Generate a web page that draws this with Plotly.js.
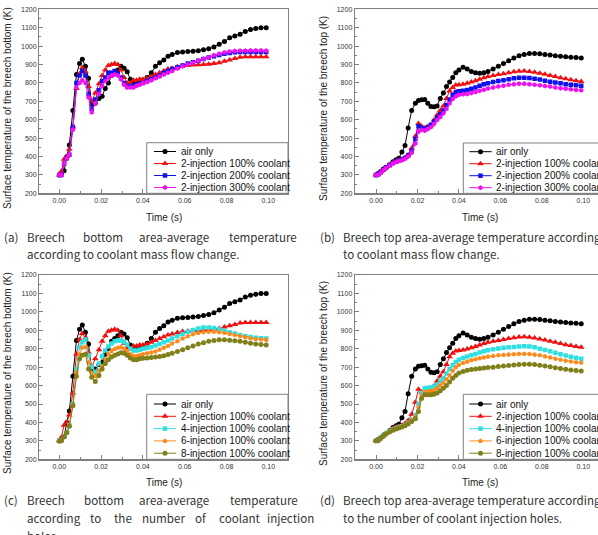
<!DOCTYPE html>
<html>
<head>
<meta charset="utf-8">
<script src="https://cdn.plot.ly/plotly-3.0.1.min.js"></script>
<style>
  html, body { margin: 0; padding: 0; overflow: hidden; background: #fff; }
  #chart { width: 598px; height: 535px; }
</style>
</head>
<body>
<div id="chart"></div>
<script>
// Sampling instants of the simulation output (s)
const time_s = [0, 0.001, 0.0023, 0.0036, 0.0048, 0.0065, 0.0082, 0.0097, 0.011, 0.0125, 0.014, 0.0155, 0.0172, 0.019, 0.0205, 0.022, 0.0235, 0.025, 0.0265, 0.028, 0.0295, 0.031, 0.0325, 0.034, 0.0355, 0.037, 0.0385, 0.04, 0.042, 0.044, 0.046, 0.048, 0.05, 0.052, 0.054, 0.0565, 0.059, 0.0615, 0.064, 0.0665, 0.069, 0.0715, 0.074, 0.0765, 0.079, 0.0815, 0.084, 0.0865, 0.089, 0.0915, 0.094, 0.0965, 0.099];

// Breech bottom area-average surface temperature (K)
const bottom_air      = [300, 310, 323, 400, 462, 650, 845, 905, 929, 890, 825, 680, 690, 715, 728, 770, 800, 840, 855, 870, 890, 880, 860, 820, 805, 800, 810, 815, 830, 855, 890, 910, 925, 945, 955, 965, 968, 970, 972, 975, 980, 985, 995, 1010, 1025, 1045, 1055, 1065, 1080, 1090, 1095, 1100, 1100];
const bottom_inj2_100 = [300, 320, 385, 400, 440, 560, 770, 850, 882, 860, 780, 700, 745, 795, 840, 870, 895, 900, 905, 900, 870, 830, 800, 800, 815, 815, 820, 820, 825, 835, 845, 855, 865, 875, 880, 888, 893, 895, 897, 898, 900, 902, 905, 910, 918, 925, 932, 940, 942, 942, 942, 942, 942];
const bottom_inj2_200 = [300, 300, 360, 390, 410, 560, 800, 840, 865, 840, 740, 660, 710, 760, 810, 830, 855, 855, 865, 850, 830, 800, 780, 780, 785, 790, 795, 800, 810, 820, 830, 840, 855, 865, 875, 885, 895, 905, 912, 920, 930, 938, 945, 952, 958, 963, 966, 968, 968, 968, 968, 968, 968];
const bottom_inj2_300 = [300, 300, 360, 390, 410, 545, 775, 800, 815, 800, 720, 640, 690, 740, 785, 810, 830, 840, 845, 840, 820, 790, 775, 775, 775, 785, 790, 800, 805, 815, 825, 835, 845, 855, 865, 878, 890, 900, 910, 920, 930, 940, 950, 958, 965, 970, 973, 975, 975, 976, 976, 976, 975];
const bottom_inj4_100 = [300, 305, 322, 345, 385, 500, 690, 808, 835, 850, 765, 700, 675, 720, 760, 790, 812, 828, 840, 845, 845, 838, 822, 800, 790, 790, 795, 800, 805, 810, 818, 825, 835, 845, 855, 868, 880, 892, 902, 910, 915, 915, 912, 905, 898, 890, 882, 875, 868, 863, 860, 857, 855];
const bottom_inj6_100 = [300, 302, 322, 345, 383, 495, 670, 770, 805, 810, 725, 670, 652, 680, 705, 740, 770, 788, 798, 805, 808, 800, 788, 770, 760, 760, 765, 770, 775, 780, 785, 795, 805, 815, 828, 840, 855, 868, 878, 885, 890, 892, 892, 890, 885, 880, 875, 868, 862, 857, 853, 850, 848];
const bottom_inj8_100 = [298, 300, 322, 345, 380, 490, 650, 745, 765, 770, 690, 645, 622, 655, 690, 720, 740, 755, 765, 772, 778, 775, 765, 750, 740, 740, 745, 748, 750, 752, 755, 758, 762, 768, 775, 785, 795, 805, 815, 825, 832, 840, 845, 848, 848, 846, 843, 840, 835, 830, 826, 823, 820];

// Breech top area-average surface temperature (K)
const top_air      = [300, 308, 318, 332, 340, 355, 372, 382, 390, 425, 460, 555, 650, 690, 705, 708, 710, 690, 672, 670, 675, 715, 745, 780, 805, 830, 855, 870, 885, 875, 862, 855, 852, 855, 862, 875, 890, 905, 920, 935, 948, 955, 960, 960, 958, 955, 952, 948, 945, 942, 940, 938, 935];
const top_inj2_100 = [300, 305, 318, 330, 342, 355, 368, 375, 380, 385, 395, 410, 445, 510, 580, 565, 555, 562, 570, 598, 625, 650, 675, 715, 756, 775, 788, 790, 793, 798, 805, 812, 820, 828, 835, 840, 845, 850, 855, 860, 863, 865, 862, 858, 853, 847, 840, 835, 828, 822, 817, 812, 808];
const top_inj2_200 = [300, 303, 315, 328, 340, 352, 365, 372, 378, 383, 392, 405, 430, 495, 565, 555, 550, 560, 572, 590, 610, 630, 650, 680, 710, 735, 750, 755, 758, 762, 768, 775, 785, 792, 798, 805, 810, 815, 820, 825, 828, 828, 826, 822, 818, 812, 806, 802, 798, 793, 790, 787, 785];
const top_inj2_300 = [300, 300, 312, 325, 338, 350, 362, 370, 375, 380, 388, 400, 420, 470, 535, 545, 540, 550, 560, 578, 598, 615, 635, 660, 690, 712, 728, 735, 738, 740, 745, 750, 757, 763, 770, 775, 780, 785, 790, 793, 795, 795, 793, 790, 787, 783, 780, 775, 771, 768, 765, 762, 760];
const top_inj4_100 = [300, 305, 318, 330, 342, 352, 362, 370, 375, 380, 388, 398, 415, 440, 500, 560, 585, 588, 590, 595, 605, 625, 640, 665, 690, 710, 728, 740, 750, 758, 765, 772, 780, 786, 792, 797, 801, 805, 808, 810, 812, 813, 812, 808, 800, 793, 786, 778, 770, 763, 757, 751, 746];
const top_inj6_100 = [300, 303, 316, 328, 340, 350, 360, 368, 373, 378, 386, 396, 410, 430, 480, 545, 565, 568, 570, 575, 585, 600, 615, 635, 655, 680, 700, 712, 722, 730, 737, 743, 748, 753, 757, 760, 764, 766, 768, 770, 772, 772, 771, 768, 764, 758, 752, 746, 740, 735, 731, 727, 724];
const top_inj8_100 = [300, 300, 313, 325, 337, 348, 358, 365, 370, 375, 382, 392, 405, 420, 460, 530, 550, 550, 550, 553, 560, 572, 585, 600, 620, 640, 655, 668, 677, 683, 687, 690, 693, 696, 698, 700, 703, 706, 709, 712, 714, 716, 716, 714, 710, 706, 702, 697, 692, 688, 685, 682, 679];

// Legend entries and tick labels
const series_names = {
  air: 'air only',
  inj2_100: '2-injection 100% coolant',
  inj2_200: '2-injection 200% coolant',
  inj2_300: '2-injection 300% coolant',
  inj4_100: '4-injection 100% coolant',
  inj6_100: '6-injection 100% coolant',
  inj8_100: '8-injection 100% coolant'
};
const x_tick_values = [0, 0.02, 0.04, 0.06, 0.08, 0.10];
const x_tick_labels = ['0.00', '0.02', '0.04', '0.06', '0.08', '0.10'];
const y_tick_values = [200, 300, 400, 500, 600, 700, 800, 900, 1000, 1100, 1200];
const y_tick_labels = ['200', '300', '400', '500', '600', '700', '800', '900', '1000', '1100', '1200'];

// ---- styling -------------------------------------------------------------
const W = 598, H = 535;
const FRAME = '#808080';
const STYLE = {
  air:      { color: '#000000', symbol: 'circle',      size: 5 },
  inj2_100: { color: '#f01010', symbol: 'triangle-up', size: 6 },
  inj2_200: { color: '#1010f0', symbol: 'square',      size: 4.5 },
  inj2_300: { color: '#f010f0', symbol: 'hexagon',     size: 5 },
  inj4_100: { color: '#30e0e0', symbol: 'square',      size: 4.5 },
  inj6_100: { color: '#ff8a1c', symbol: 'pentagon',    size: 5 },
  inj8_100: { color: '#7f801a', symbol: 'circle',      size: 5 }
};

const panels = [
  { xa: 'x', ya: 'y', frame: [39.3, 288, 9.3, 193.3], tickPx: [59.3, 268.3], clipRight: false,
    series: [['air', bottom_air], ['inj2_100', bottom_inj2_100], ['inj2_200', bottom_inj2_200], ['inj2_300', bottom_inj2_300]],
    yTitle: 'Surface temperature of the breech bottom (K)', yTitleAt: [7, 108], xTitleAt: [164, 217],
    legendBox: [146.7, 288, 142.7, 193.3], legendRows: [151.5, 163.5, 175.5, 187.5], legendX: [154, 176, 178.5] },
  { xa: 'x2', ya: 'y2', frame: [355, 604, 9.3, 193.3], tickPx: [376, 583.3], clipRight: true,
    series: [['air', top_air], ['inj2_100', top_inj2_100], ['inj2_200', top_inj2_200], ['inj2_300', top_inj2_300]],
    yTitle: 'Surface temperature of the breech top (K)', yTitleAt: [323, 109], xTitleAt: [480, 217],
    legendBox: [463.3, 620, 143, 193.3], legendRows: [151.7, 163.7, 175.7, 187.7], legendX: [469.3, 491.7, 494] },
  { xa: 'x3', ya: 'y3', frame: [39.3, 288, 275, 459.3], tickPx: [59.3, 268.3], clipRight: false,
    series: [['air', bottom_air], ['inj2_100', bottom_inj2_100], ['inj4_100', bottom_inj4_100], ['inj6_100', bottom_inj6_100], ['inj8_100', bottom_inj8_100]],
    yTitle: 'Surface temperature of the breech bottom (K)', yTitleAt: [7, 373], xTitleAt: [164, 482],
    legendBox: [146.7, 288, 394.3, 459.3], legendRows: [404, 416.3, 428.6, 440.9, 453.2], legendX: [154, 176, 178.5] },
  { xa: 'x4', ya: 'y4', frame: [355, 604, 275, 459.3], tickPx: [376, 583.3], clipRight: true,
    series: [['air', top_air], ['inj2_100', top_inj2_100], ['inj4_100', top_inj4_100], ['inj6_100', top_inj6_100], ['inj8_100', top_inj8_100]],
    yTitle: 'Surface temperature of the breech top (K)', yTitleAt: [323, 374], xTitleAt: [480, 482],
    legendBox: [463.3, 620, 394.3, 459.3], legendRows: [404, 416.3, 428.6, 440.9, 453.2], legendX: [469.3, 491.7, 494] }
];

// Figure captions: [text, left px, centre px, extra vertical shift]
const captions = [
  ['(a)', 2, 236.7, 0], ['Breech', 25, 236.7, 0], ['bottom', 81, 236.7, 0], ['area-average', 137, 236.7, 0], ['temperature', 227, 236.7, 0],
  ['according to coolant mass flow change.', 25, 253.5, 0],
  ['(b)', 318, 236.7, 0], ['Breech top area-average temperature according', 340.7, 236.7, 0],
  ['to coolant mass flow change.', 340.7, 253.5, 0],
  ['(c)', 2, 500, 0], ['Breech', 25, 500, 0], ['bottom', 82, 500, 0], ['area-average', 137, 500, 0], ['temperature', 228, 500, 0],
  ['according', 25, 517.7, 0], ['to', 88, 517.7, 0], ['the', 112, 517.7, 0], ['number', 140, 517.7, 0], ['of', 193, 517.7, 0],
  ['coolant', 217, 517.7, 0], ['injection', 265, 517.7, 0],
  ['holes.', 25, 535, -0.5],
  ['(d)', 318, 500, 0], ['Breech top area-average temperature according', 340.7, 500, 0],
  ['to the number of coolant injection holes.', 340.7, 517.7, 0]
];

// ---- build figure ----------------------------------------------------------
const traces = [];
const annotations = [];
const layout = {
  width: W, height: H,
  margin: { l: 0, r: 0, t: 0, b: 0, autoexpand: false },
  paper_bgcolor: '#ffffff',
  plot_bgcolor: 'rgba(0,0,0,0)',
  showlegend: false,
  font: { family: 'Liberation Sans, Arial, sans-serif', size: 10, color: '#222' },
  // full-page overlay used for the legend boxes and labels (pixel units)
  xaxis5: { domain: [0, 1], range: [0, W], visible: false, fixedrange: true, anchor: 'y5' },
  yaxis5: { domain: [0, 1], range: [H, 0], visible: false, fixedrange: true, anchor: 'x5' }
};

panels.forEach((p, i) => {
  const n = i === 0 ? '' : String(i + 1);
  const [L, R, T, B] = p.frame;
  const Rv = Math.min(R, W);
  const k = (x_tick_values[x_tick_values.length - 1] - x_tick_values[0]) / (p.tickPx[1] - p.tickPx[0]);
  const axisCommon = {
    showgrid: false, zeroline: false, showline: true, linecolor: FRAME, linewidth: 1.3,
    ticks: 'inside', ticklen: 4, tickwidth: 1, tickcolor: FRAME,
    tickfont: { size: 7, color: '#333' }, tickmode: 'array', fixedrange: true
  };
  layout['xaxis' + n] = Object.assign({}, axisCommon, {
    domain: [L / W, Rv / W], anchor: 'y' + n,
    range: [(L - p.tickPx[0]) * k, (Rv - p.tickPx[0]) * k],
    tickvals: x_tick_values, ticktext: x_tick_labels,
    mirror: true,
    minor: { ticks: 'inside', ticklen: 2, tickcolor: FRAME, tickmode: 'linear', tick0: 0, dtick: 0.01 }
  });
  layout['yaxis' + n] = Object.assign({}, axisCommon, {
    domain: [1 - B / H, 1 - T / H], anchor: 'x' + n,
    range: [200, 1200],
    tickvals: y_tick_values, ticktext: y_tick_labels,
    mirror: !p.clipRight,
    minor: { ticks: 'inside', ticklen: 2, tickcolor: FRAME, tickmode: 'linear', tick0: 0, dtick: 50 }
  });

  p.series.forEach(([key, vals]) => {
    const s = STYLE[key];
    traces.push({
      type: 'scatter', mode: 'lines+markers', name: series_names[key],
      x: time_s, y: vals, xaxis: p.xa, yaxis: p.ya,
      line: { color: s.color, width: 1 },
      marker: { color: s.color, symbol: s.symbol, size: s.size, line: { width: 0 } },
      hoverinfo: 'skip'
    });
  });

  // axis titles
  annotations.push({
    xref: 'x5', yref: 'y5', x: p.yTitleAt[0], y: p.yTitleAt[1], text: p.yTitle, textangle: -90,
    showarrow: false, xanchor: 'center', yanchor: 'middle', font: { size: 10, color: '#222' }
  });
  annotations.push({
    xref: 'x5', yref: 'y5', x: p.xTitleAt[0], y: p.xTitleAt[1], text: 'Time (s)',
    showarrow: false, xanchor: 'center', yanchor: 'middle', font: { size: 10, color: '#222' }
  });

  // legend box
  const [bl, br, bt, bb] = p.legendBox;
  traces.push({
    type: 'scatter', mode: 'lines', xaxis: 'x5', yaxis: 'y5',
    x: [bl, br, br, bl, bl], y: [bt, bt, bb, bb, bt],
    fill: 'toself', fillcolor: '#ffffff', line: { color: FRAME, width: 1 }, hoverinfo: 'skip'
  });
  p.series.forEach(([key], j) => {
    const s = STYLE[key];
    const yy = p.legendRows[j];
    traces.push({
      type: 'scatter', mode: 'lines', xaxis: 'x5', yaxis: 'y5',
      x: [p.legendX[0], p.legendX[1]], y: [yy, yy], line: { color: s.color, width: 1 }, hoverinfo: 'skip'
    });
    traces.push({
      type: 'scatter', mode: 'markers', xaxis: 'x5', yaxis: 'y5',
      x: [(p.legendX[0] + p.legendX[1]) / 2], y: [yy],
      marker: { color: s.color, symbol: s.symbol, size: s.size, line: { width: 0 } }, hoverinfo: 'skip'
    });
    annotations.push({
      xref: 'x5', yref: 'y5', x: p.legendX[2], y: yy, text: series_names[key],
      showarrow: false, xanchor: 'left', yanchor: 'middle', font: { size: 10, color: '#111' }
    });
  });
});

captions.forEach(([text, x, y, shift]) => {
  annotations.push({
    xref: 'x5', yref: 'y5', x: x, y: y, yshift: shift, text: text, showarrow: false,
    xanchor: 'left', yanchor: 'middle',
    font: { family: 'Noto Sans CJK KR, Noto Sans, sans-serif', size: 11.6, color: '#333' }
  });
});

layout.annotations = annotations;

Plotly.newPlot('chart', traces, layout, { staticPlot: true, displayModeBar: false });
</script>
</body>
</html>
